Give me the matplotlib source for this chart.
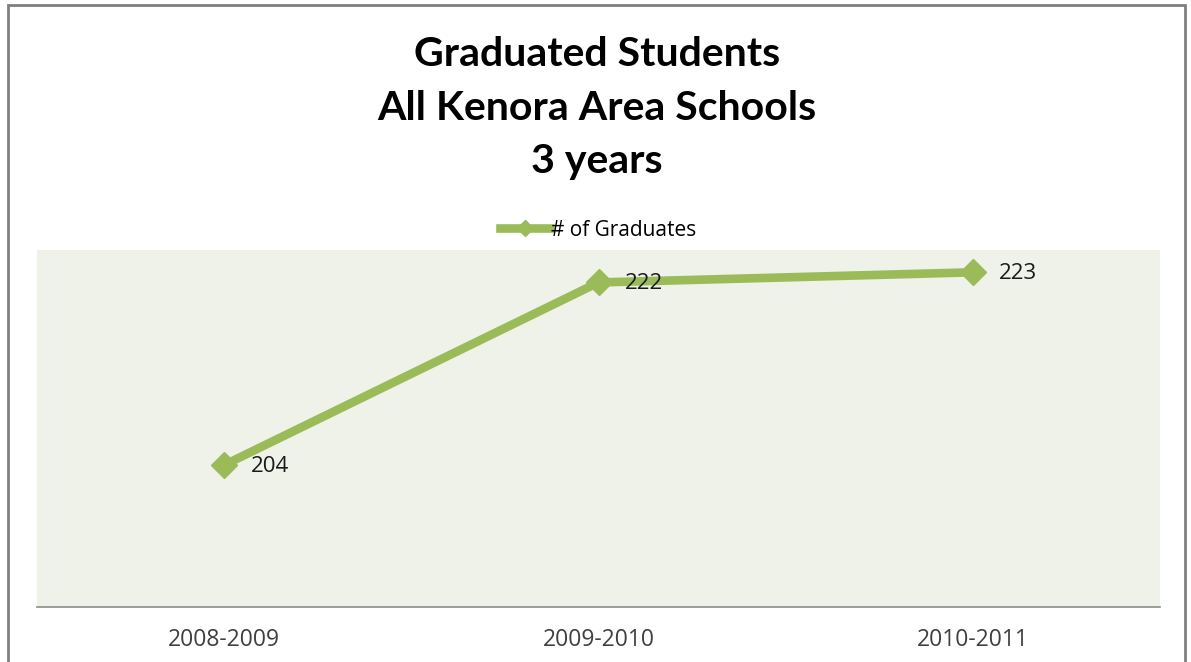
import matplotlib.pyplot as plt
from matplotlib.patches import Rectangle
from matplotlib.lines import Line2D

# Данные: число выпускников по учебным годам
years = ['2008-2009', '2009-2010', '2010-2011']
graduates = [204, 222, 223]

title_lines = ['Graduated Students', 'All Kenora Area Schools', '3 years']
series_name = '# of Graduates'

green = '#9BBB59'

fig = plt.figure(figsize=(11.91, 6.62), dpi=100)
fig.patch.set_facecolor('white')

# рамка вокруг всей диаграммы
fig.add_artist(Rectangle((8 / 1191, -0.05), (1185 - 8) / 1191, 1.05 - 5 / 662,
                         transform=fig.transFigure, fill=False,
                         edgecolor='#7f7f7f', linewidth=2))

ax = fig.add_axes([37 / 1191, 1 - 607 / 662, (1160 - 37) / 1191, (607 - 250) / 662])
ax.set_facecolor('#EEF2E9')

x = list(range(len(years)))
ax.plot(x, graduates, color=green, linewidth=6.2, marker='D', markersize=13,
        markerfacecolor=green, markeredgecolor=green, solid_joinstyle='miter')

for xi, val in zip(x, graduates):
    ax.annotate(str(val), (xi, val), xytext=(19, -1), textcoords='offset points',
                ha='left', va='center', fontsize=16, color='#1a1a1a',
                family='Open Sans')

ax.set_xlim(-0.5, 2.5)
ax.set_ylim(190, 225.2)
ax.set_xticks(x)
ax.set_xticklabels(years, fontsize=16.5, color='#404040', family='Open Sans')
ax.tick_params(axis='x', length=0, pad=15)
ax.set_yticks([])
for side in ['left', 'right', 'top']:
    ax.spines[side].set_visible(False)
ax.spines['bottom'].set_color('#8c8c8c')
ax.spines['bottom'].set_linewidth(1.2)

# заголовок в три строки
for i, line in enumerate(title_lines):
    fig.text(597 / 1191, 1 - (55 + i * 53.5) / 662, line, ha='center', va='center',
             fontsize=29.5, fontweight='bold', family='Lato', color='black')

# легенда над областью построения
handle = Line2D([0], [0], color=green, linewidth=6.2, marker='D', markersize=8)
fig.legend([handle], [series_name], loc='center', bbox_to_anchor=(598 / 1191, 1 - 230 / 662),
           frameon=False, handlelength=2.4, handletextpad=0.05,
           prop={'family': 'Open Sans', 'size': 15})

fig.savefig('out.png', dpi=100)
